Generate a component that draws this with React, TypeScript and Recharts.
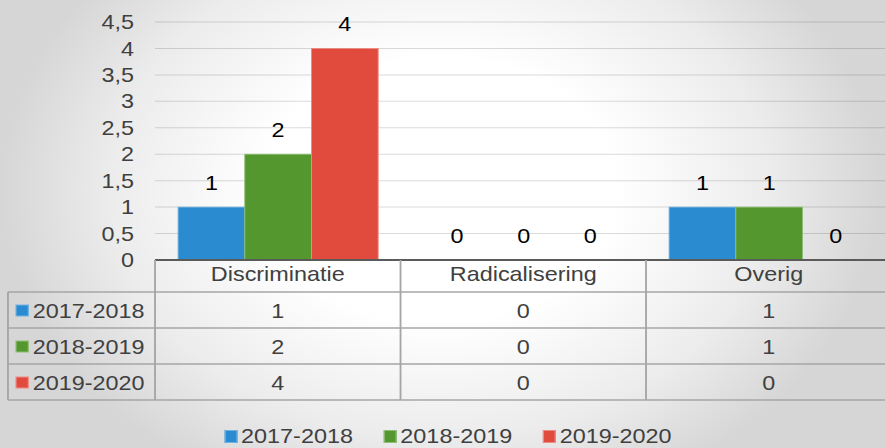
import { BarChart, Bar, XAxis, YAxis, CartesianGrid, Legend } from "recharts";

const CATEGORIES = ["Discriminatie", "Radicalisering", "Overig"];
const SERIES = ["2017-2018", "2018-2019", "2019-2020"];
const VALUES_1718 = [1, 0, 1];
const VALUES_1819 = [2, 0, 1];
const VALUES_1920 = [4, 0, 0];
const Y_TICKS = [0, 0.5, 1, 1.5, 2, 2.5, 3, 3.5, 4, 4.5];
const COLORS = ["#2a8bd0", "#54972f", "#e04b3e"];
const BORDERS = ["#6fb2e2", "#8ebd75", "#ee8c84"];

const ROWS = [VALUES_1718, VALUES_1819, VALUES_1920];

// the source image is stretched sideways, so the chart is drawn narrower and scaled
const STRETCH = 1.17;
const CHART_W = 766;
const CHART_H = 448;
const PLOT_LEFT = 132.5;
const MARGIN_RIGHT = 4;
const BAND = (CHART_W - PLOT_LEFT - MARGIN_RIGHT) / CATEGORIES.length;
const HEADER_H = 32;
const ROW_H = 36;
const TABLE_LEFT = 6.8;
const LINE = "#a6a6a6";
const TEXT = "#404040";
const FONT = "'Liberation Sans', Arial, sans-serif";

const data = CATEGORIES.map((name, i) => ({
  name,
  [SERIES[0]]: VALUES_1718[i],
  [SERIES[1]]: VALUES_1819[i],
  [SERIES[2]]: VALUES_1920[i],
}));

// bar plus its value label; zero-height bars still get their "0"
function makeShape(key: string, i: number) {
  return (props: any) => {
    const { x, y, width, height, payload } = props;
    return (
      <g>
        {height > 0 && (
          <rect x={x} y={y} width={width} height={height} fill={COLORS[i]} stroke={BORDERS[i]} strokeWidth={0.8} />
        )}
        <text x={x + width / 2} y={y - 17} textAnchor="middle" fill="#000" fontSize={20} fontFamily={FONT}>
          {payload[key]}
        </text>
      </g>
    );
  };
}

function TableTick(props: any) {
  const { x, y, payload, index } = props;
  const left = x - BAND / 2;
  const right = x + BAND / 2;
  const bottom = y + HEADER_H + ROW_H * ROWS.length;
  const last = index === CATEGORIES.length - 1;
  return (
    <g fontFamily={FONT} fontSize={20} fill={TEXT}>
      <text x={x} y={y + 21} textAnchor="middle">{payload.value}</text>
      {ROWS.map((vals, r) => (
        <text key={r} x={x} y={y + HEADER_H + ROW_H * r + 26} textAnchor="middle">
          {vals[index]}
        </text>
      ))}
      <line x1={left} x2={left} y1={y} y2={bottom} stroke={LINE} strokeWidth={1.6} />
      {last && <line x1={right} x2={right} y1={y} y2={bottom} stroke={LINE} strokeWidth={1.6} />}
      {ROWS.map((_, r) => (
        <line key={"h" + r} x1={left} x2={right} y1={y + HEADER_H + ROW_H * r} y2={y + HEADER_H + ROW_H * r} stroke={LINE} strokeWidth={1.5} />
      ))}
      <line x1={left} x2={right} y1={bottom} y2={bottom} stroke={LINE} strokeWidth={1.5} />
      {index === 0 && (
        <g>
          <line x1={TABLE_LEFT} x2={TABLE_LEFT} y1={y + HEADER_H} y2={bottom} stroke={LINE} strokeWidth={1.6} />
          {ROWS.map((_, r) => (
            <line key={"lh" + r} x1={TABLE_LEFT} x2={left} y1={y + HEADER_H + ROW_H * r} y2={y + HEADER_H + ROW_H * r} stroke={LINE} strokeWidth={1.5} />
          ))}
          <line x1={TABLE_LEFT} x2={left} y1={bottom} y2={bottom} stroke={LINE} strokeWidth={1.5} />
          {SERIES.map((s, r) => (
            <g key={s}>
              <rect x={13.7} y={y + HEADER_H + ROW_H * r + 13} width={10.5} height={11} fill={COLORS[r]} stroke={BORDERS[r]} strokeWidth={1} />
              <text x={28} y={y + HEADER_H + ROW_H * r + 26}>{s}</text>
            </g>
          ))}
        </g>
      )}
    </g>
  );
}

function LegendContent() {
  return (
    <div style={{ display: "flex", justifyContent: "center", fontFamily: FONT, fontSize: 20, color: TEXT, lineHeight: "23px" }}>
      {SERIES.map((s, i) => (
        <span key={s} style={{ display: "flex", alignItems: "center", marginRight: i < SERIES.length - 1 ? 26.5 : 0 }}>
          <span style={{ display: "inline-block", width: 9, height: 11, background: COLORS[i], border: `1px solid ${BORDERS[i]}`, marginRight: 3 }} />
          {s}
        </span>
      ))}
    </div>
  );
}

export default function App() {
  return (
    <div
      style={{
        position: "absolute",
        left: 0,
        top: 0,
        width: 885,
        height: 448,
        overflow: "hidden",
        background:
          "radial-gradient(ellipse 440px 330px at 440px 190px, #ffffff 0%, #ffffff 40%, #ececec 75%, #d6d6d6 100%)",
      }}
    >
      <div style={{ transform: `scaleX(${STRETCH})`, transformOrigin: "0 0", width: CHART_W }}>
        <BarChart
          width={CHART_W}
          height={CHART_H}
          data={data}
          margin={{ top: 22, right: MARGIN_RIGHT, left: 0, bottom: 0 }}
          barCategoryGap="9.4%"
          barGap={0}
        >
          {SERIES.map((s, i) => (
            <Bar key={s} dataKey={s} fill={COLORS[i]} shape={makeShape(s, i)} isAnimationActive={false} />
          ))}
          <CartesianGrid vertical={false} stroke="#000" strokeOpacity={0.14} />
          <YAxis
            width={PLOT_LEFT}
            domain={[0, 4.5]}
            ticks={Y_TICKS}
            interval={0}
            axisLine={false}
            tickLine={false}
            tickSize={0}
            tickMargin={18}
            tickFormatter={(v: number) => String(v).replace(".", ",")}
            tick={{ fill: TEXT, fontSize: 20, fontFamily: FONT }}
          />
          <XAxis
            dataKey="name"
            height={165}
            tickLine={false}
            tickSize={0}
            tickMargin={0}
            axisLine={{ stroke: "#5a5a5a", strokeWidth: 2 }}
            tick={<TableTick />}
            interval={0}
          />
          <Legend
            verticalAlign="bottom"
            content={<LegendContent />}
            wrapperStyle={{ left: 0, width: CHART_W, bottom: 0, height: 23 }}
          />
        </BarChart>
      </div>
    </div>
  );
}
